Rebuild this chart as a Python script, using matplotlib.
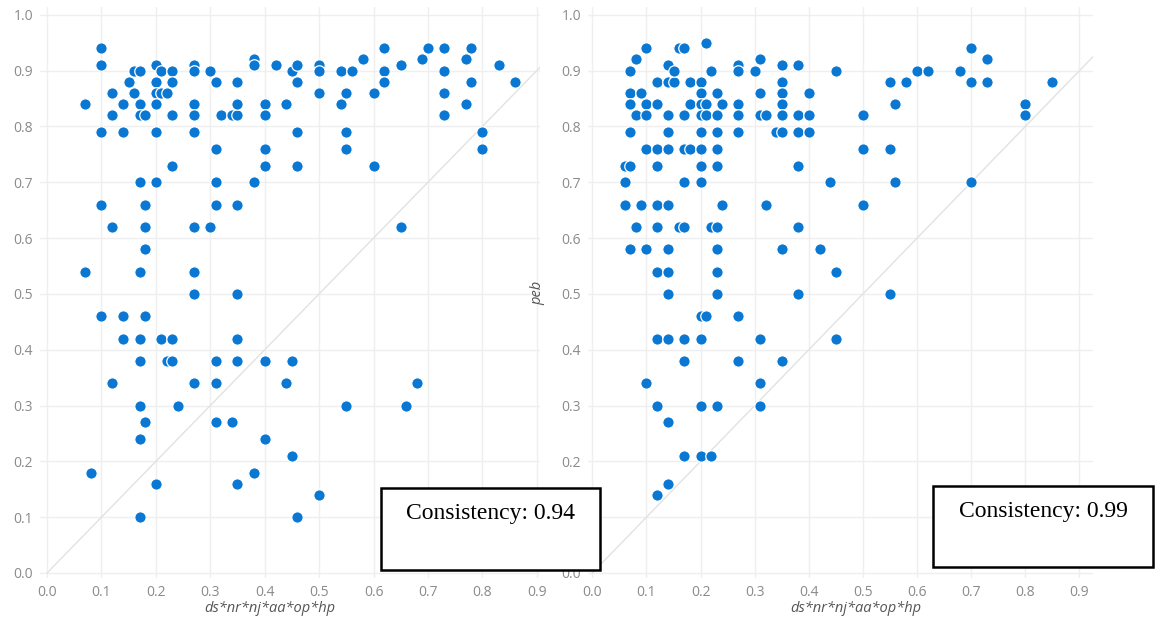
import numpy as np
import matplotlib
matplotlib.use("Agg")
import matplotlib.pyplot as plt
from matplotlib.patches import Rectangle

# left panel: ds*nr*nj*aa*op*hp vs outcome
left_x = [0.07, 0.10, 0.10, 0.12, 0.12, 0.10, 0.14, 0.14, 0.15, 0.16, 0.17, 0.16, 0.17, 0.17, 0.18,
          0.20, 0.21, 0.20, 0.20, 0.21, 0.22, 0.20, 0.20, 0.23, 0.23, 0.23, 0.23, 0.17, 0.20, 0.10,
          0.18, 0.12, 0.18, 0.18, 0.07, 0.17, 0.27, 0.27, 0.27, 0.27, 0.27, 0.30, 0.31, 0.32, 0.34,
          0.35, 0.35, 0.35, 0.31, 0.31, 0.31, 0.30, 0.27, 0.35, 0.27, 0.27, 0.35, 0.38, 0.38, 0.38,
          0.40, 0.40, 0.40, 0.40, 0.42, 0.44, 0.45, 0.46, 0.46, 0.46, 0.46, 0.50, 0.50, 0.50, 0.54,
          0.56, 0.55, 0.54, 0.55, 0.55, 0.58, 0.60, 0.60, 0.62, 0.62, 0.62, 0.65, 0.65, 0.69, 0.70,
          0.73, 0.73, 0.73, 0.73, 0.77, 0.78, 0.78, 0.77, 0.80, 0.80, 0.83, 0.86,
          0.10, 0.14, 0.18, 0.14, 0.17, 0.21, 0.23, 0.17, 0.22, 0.23, 0.12, 0.17, 0.18, 0.17, 0.08,
          0.20, 0.17, 0.24, 0.27, 0.31, 0.31, 0.31, 0.34, 0.35, 0.35, 0.35, 0.38, 0.40, 0.40, 0.44,
          0.45, 0.45, 0.68, 0.55, 0.66, 0.50, 0.46]
left_y = [0.84, 0.94, 0.91, 0.86, 0.82, 0.79, 0.84, 0.79, 0.88, 0.90, 0.90, 0.86, 0.84, 0.82, 0.82,
          0.91, 0.90, 0.88, 0.86, 0.86, 0.86, 0.84, 0.79, 0.90, 0.88, 0.82, 0.73, 0.70, 0.70, 0.66,
          0.66, 0.62, 0.62, 0.58, 0.54, 0.54, 0.91, 0.90, 0.84, 0.82, 0.79, 0.90, 0.88, 0.82, 0.82,
          0.82, 0.88, 0.84, 0.76, 0.70, 0.66, 0.62, 0.62, 0.66, 0.54, 0.50, 0.50, 0.92, 0.91, 0.70,
          0.84, 0.82, 0.76, 0.73, 0.91, 0.84, 0.90, 0.91, 0.88, 0.79, 0.73, 0.91, 0.90, 0.86, 0.90,
          0.90, 0.86, 0.84, 0.79, 0.76, 0.92, 0.86, 0.73, 0.94, 0.90, 0.88, 0.91, 0.62, 0.92, 0.94,
          0.94, 0.90, 0.86, 0.82, 0.92, 0.94, 0.88, 0.84, 0.79, 0.76, 0.91, 0.88,
          0.46, 0.46, 0.46, 0.42, 0.42, 0.42, 0.42, 0.38, 0.38, 0.38, 0.34, 0.30, 0.27, 0.24, 0.18,
          0.16, 0.10, 0.30, 0.34, 0.38, 0.34, 0.27, 0.27, 0.42, 0.38, 0.16, 0.18, 0.38, 0.24, 0.34,
          0.38, 0.21, 0.34, 0.30, 0.30, 0.14, 0.10]

# right panel: ds*nr*nj*aa*op*hp vs peb
right_x = [0.06, 0.07, 0.06, 0.06, 0.07, 0.08, 0.07, 0.07, 0.08, 0.07, 0.08, 0.07, 0.09, 0.09, 0.10,
           0.10, 0.10, 0.10, 0.10, 0.12, 0.12, 0.12, 0.12, 0.12, 0.12, 0.12, 0.14, 0.14, 0.15, 0.15,
           0.14, 0.14, 0.14, 0.14, 0.14, 0.14, 0.14, 0.16, 0.17, 0.18, 0.18, 0.17, 0.17, 0.18, 0.17,
           0.16, 0.17, 0.21, 0.20, 0.20, 0.20, 0.21, 0.20, 0.21, 0.20, 0.20, 0.20, 0.20, 0.22, 0.22,
           0.23, 0.23, 0.23, 0.23, 0.23, 0.23, 0.23, 0.23, 0.23, 0.24, 0.24, 0.27, 0.27, 0.27, 0.27,
           0.27, 0.30, 0.31, 0.31, 0.31, 0.32, 0.32, 0.34, 0.35, 0.35, 0.35, 0.35, 0.35, 0.35, 0.35,
           0.38, 0.38, 0.38, 0.38, 0.38, 0.38, 0.40, 0.40, 0.40, 0.42, 0.44, 0.45, 0.45, 0.50, 0.50,
           0.50, 0.55, 0.55, 0.55, 0.56, 0.56, 0.58, 0.60, 0.62, 0.68, 0.70, 0.70, 0.70, 0.73, 0.73,
           0.80, 0.80, 0.85,
           0.20, 0.21, 0.27, 0.12, 0.14, 0.17, 0.20, 0.31, 0.45, 0.17, 0.27, 0.35, 0.10, 0.31, 0.12,
           0.20, 0.23, 0.31, 0.14, 0.17, 0.20, 0.22, 0.14, 0.12]
right_y = [0.73, 0.73, 0.70, 0.66, 0.90, 0.92, 0.86, 0.84, 0.82, 0.79, 0.62, 0.58, 0.86, 0.66, 0.94,
           0.84, 0.82, 0.76, 0.58, 0.88, 0.84, 0.76, 0.73, 0.66, 0.62, 0.54, 0.91, 0.88, 0.88, 0.90,
           0.82, 0.79, 0.76, 0.66, 0.58, 0.54, 0.50, 0.94, 0.94, 0.88, 0.84, 0.82, 0.76, 0.76, 0.70,
           0.62, 0.62, 0.95, 0.88, 0.86, 0.84, 0.84, 0.82, 0.82, 0.79, 0.76, 0.73, 0.70, 0.90, 0.62,
           0.62, 0.86, 0.82, 0.79, 0.76, 0.73, 0.58, 0.54, 0.50, 0.84, 0.66, 0.91, 0.90, 0.84, 0.82,
           0.79, 0.90, 0.92, 0.86, 0.82, 0.82, 0.66, 0.79, 0.79, 0.91, 0.88, 0.86, 0.84, 0.82, 0.58,
           0.91, 0.82, 0.79, 0.73, 0.62, 0.50, 0.86, 0.82, 0.79, 0.58, 0.70, 0.90, 0.54, 0.82, 0.76,
           0.66, 0.88, 0.76, 0.50, 0.84, 0.70, 0.88, 0.90, 0.90, 0.90, 0.94, 0.88, 0.70, 0.92, 0.88,
           0.84, 0.82, 0.88,
           0.46, 0.46, 0.46, 0.42, 0.42, 0.42, 0.42, 0.42, 0.42, 0.38, 0.38, 0.38, 0.34, 0.34, 0.30,
           0.30, 0.30, 0.30, 0.27, 0.21, 0.21, 0.21, 0.16, 0.14]

ticks_x = [0.0, 0.1, 0.2, 0.3, 0.4, 0.5, 0.6, 0.7, 0.8, 0.9]
ticks_y = [0.0, 0.1, 0.2, 0.3, 0.4, 0.5, 0.6, 0.7, 0.8, 0.9, 1.0]
xlabel = "ds*nr*nj*aa*op*hp"
consistency = ["Consistency: 0.94", "Consistency: 0.99"]

dot_color = "#0a78d2"
tick_color = "#8a8a8a"

fig = plt.figure(figsize=(11.55, 6.23), dpi=100)


def style_axes(ax, xlim):
    ax.set_xlim(*xlim)
    ax.set_ylim(-0.009, 1.014)
    ax.set_xticks(ticks_x)
    ax.set_yticks(ticks_y)
    ax.set_xticklabels([f"{t:.1f}" for t in ticks_x])
    ax.set_yticklabels([f"{t:.1f}" for t in ticks_y])
    for s in ax.spines.values():
        s.set_visible(False)
    ax.tick_params(length=0, colors=tick_color, labelsize=10, pad=5)
    for lab in ax.get_xticklabels() + ax.get_yticklabels():
        lab.set_fontfamily("Open Sans")
    ax.grid(True, color="#efefef", lw=1)
    ax.set_axisbelow(True)
    ax.plot([0, 1], [0, 1], color="#e2e2e2", lw=1, zorder=1)


ax1 = fig.add_axes([40 / 1155, 1 - 578 / 623, 500 / 1155, 571 / 623])
style_axes(ax1, (-0.013, 0.906))
ax1.scatter(left_x, left_y, s=68, color=dot_color, edgecolor="white", linewidth=0.9, zorder=3)
ax1.set_xlabel(xlabel, fontsize=10.5, style="italic", color="#555555", fontfamily="Open Sans")
ax1.xaxis.set_label_coords(0.46, -0.041)

ax2 = fig.add_axes([588 / 1155, 1 - 578 / 623, 505 / 1155, 571 / 623])
style_axes(ax2, (-0.008, 0.925))
ax2.scatter(right_x, right_y, s=68, color=dot_color, edgecolor="white", linewidth=0.9, zorder=3)
ax2.set_xlabel(xlabel, fontsize=10.5, style="italic", color="#555555", fontfamily="Open Sans")
ax2.xaxis.set_label_coords(0.53, -0.041)
ax2.set_ylabel("peb", fontsize=10.5, style="italic", color="#555555", fontfamily="Open Sans")
ax2.yaxis.set_label_coords(-0.085, 0.5)

# consistency boxes drawn on top of both panels
boxes = [(381, 488, 600, 570), (933, 486, 1153, 567)]
for (x0, y0, x1, y1), txt in zip(boxes, consistency):
    fig.patches.append(Rectangle((x0 / 1155, 1 - y1 / 623), (x1 - x0) / 1155, (y1 - y0) / 623,
                                 transform=fig.transFigure, facecolor="white",
                                 edgecolor="black", lw=1.8, zorder=10))
    fig.text((x0 + x1) / 2 / 1155, 1 - (y0 + 26) / 623, txt, ha="center", va="center",
             fontsize=17, fontfamily="Liberation Serif", color="black", zorder=11)

fig.savefig("out.png", dpi=100)
